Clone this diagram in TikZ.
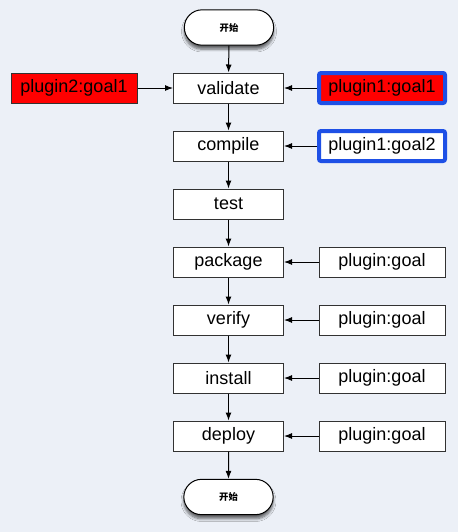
\documentclass[tikz,border=0pt]{standalone}
\usepackage{fontspec}
\setmainfont{Liberation Sans}
\newfontfamily\cjk{Noto Sans CJK SC}
\usepackage{tikz}
\usetikzlibrary{arrows.meta}
\usetikzlibrary{shadows.blur}
\usetikzlibrary{shapes}
\definecolor{bgcol}{RGB}{236,240,247}
\definecolor{edgecol}{RGB}{50,50,50}
\definecolor{goalblue}{RGB}{30,80,230}
\definecolor{goalred}{RGB}{255,0,0}
\tikzset{
  phase/.style={draw=edgecol,line width=0.75pt,fill=white,minimum width=82.5pt,minimum height=22.5pt,inner sep=0pt,font=\fontsize{13.5}{16}\selectfont},
  goal/.style={draw=edgecol,line width=0.75pt,fill=white,minimum width=94.5pt,minimum height=22.5pt,inner sep=0pt,font=\fontsize{13.5}{16}\selectfont},
  bound/.style={goal,draw=goalblue,line width=3pt,rounded corners=1.5pt},
  terminal/.style={rounded rectangle,draw=black,line width=0.75pt,fill=white,minimum width=67pt,minimum height=26.5pt,inner sep=0pt,font=\cjk\bfseries\fontsize{7}{8}\selectfont,blur shadow={shadow xshift=0pt,shadow yshift=-3pt,shadow blur steps=6,shadow opacity=60}},
  flow/.style={-{Latex[length=6pt,width=4.5pt]},line width=0.75pt}
}
\begin{document}
\begin{tikzpicture}[x=0.75pt,y=0.75pt,yscale=-1,xscale=1]
\fill [bgcol] (0,0) rectangle (458,532);
% lifecycle phases
\node (start) at (229,27.5) [terminal] {开始};
\node (validate) at (228.5,88) [phase] {validate};
\node (compile) at (228.5,146) [phase] {compile};
\node (test) at (228.5,204) [phase] {test};
\node (package) at (228.5,262) [phase] {package};
\node (verify) at (228.5,320) [phase] {verify};
\node (install) at (228.5,378) [phase] {install};
\node (deploy) at (228.5,436) [phase] {deploy};
\node (end) at (228.5,497) [terminal] {开始};
% plugin goals
\node (p2g1) at (74,88) [goal,fill=goalred] {plugin2:goal1};
\node (p1g1) at (382,88) [bound,fill=goalred] {plugin1:goal1};
\node (p1g2) at (382,146) [bound] {plugin1:goal2};
\node (gpackage) at (382,262) [goal] {plugin:goal};
\node (gverify) at (382,320) [goal] {plugin:goal};
\node (ginstall) at (382,378) [goal] {plugin:goal};
\node (gdeploy) at (382,436) [goal] {plugin:goal};
% connectors
\draw [flow] (start) -- (validate);
\draw [flow] (validate) -- (compile);
\draw [flow] (compile) -- (test);
\draw [flow] (test) -- (package);
\draw [flow] (package) -- (verify);
\draw [flow] (verify) -- (install);
\draw [flow] (install) -- (deploy);
\draw [flow] (deploy) -- (end);
\draw [flow] (p2g1) -- (validate);
\draw [flow] (p1g1) -- (validate);
\draw [flow] (p1g2) -- (compile);
\draw [flow] (gpackage) -- (package);
\draw [flow] (gverify) -- (verify);
\draw [flow] (ginstall) -- (install);
\draw [flow] (gdeploy) -- (deploy);
\end{tikzpicture}
\end{document}
